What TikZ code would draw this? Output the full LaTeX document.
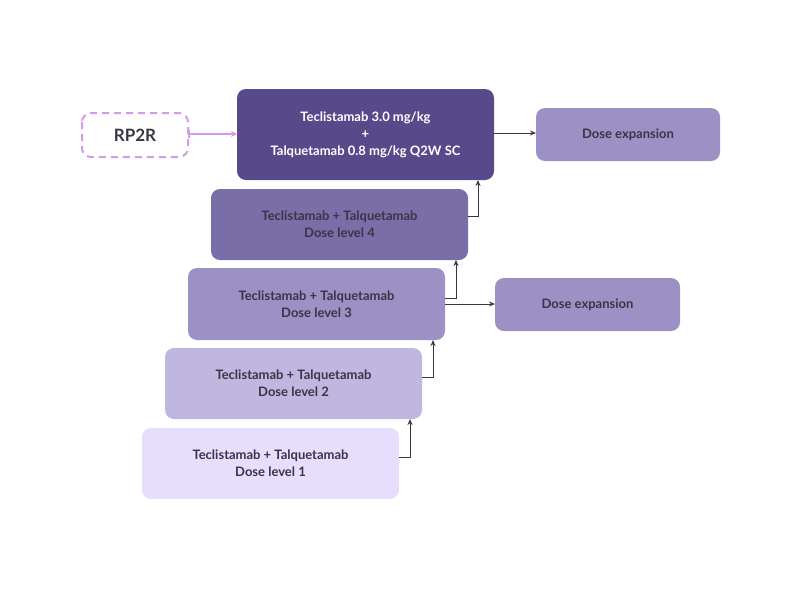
\documentclass[tikz,border=0pt]{standalone}
\usepackage{fontspec}
\setmainfont{Lato}
\usetikzlibrary{arrows.meta}
\definecolor{c0}{HTML}{584A8A}
\definecolor{c4}{HTML}{7A6EA8}
\definecolor{c3}{HTML}{9D90C4}
\definecolor{c2}{HTML}{C0B7E0}
\definecolor{c1}{HTML}{E5DEFC}
\definecolor{txt}{HTML}{3B3446}
\definecolor{pink}{HTML}{D39BEA}
\begin{document}
\begin{tikzpicture}[x=1pt,y=-1pt,
 box/.style={rounded corners=9pt,inner sep=0pt,font=\bfseries\fontsize{13}{17}\selectfont,text=txt,align=center},
 arr/.style={draw=txt,line width=1pt,-{Stealth[length=6pt,width=5pt]}}]
\useasboundingbox (0,0) rectangle (800,600);
\fill[white] (0,0) rectangle (800,600);
\path[box,fill=c0] (237,89) rectangle (494,180);
\node[box,text=white] (top) at (365.5,134.5) {Teclistamab 3.0 mg/kg\\+\\Talquetamab 0.8 mg/kg Q2W SC};
\path[box,fill=c4] (211,189) rectangle (468,260);
\node[box] (d4) at (339.5,224.5) {Teclistamab + Talquetamab\\Dose level 4};
\path[box,fill=c3] (188,268) rectangle (445,340);
\node[box] (d3) at (316.5,304) {Teclistamab + Talquetamab\\Dose level 3};
\path[box,fill=c2] (165,348) rectangle (422,419);
\node[box] (d2) at (293.5,383.5) {Teclistamab + Talquetamab\\Dose level 2};
\path[box,fill=c1] (142,428) rectangle (399,499);
\node[box] (d1) at (270.5,463.5) {Teclistamab + Talquetamab\\Dose level 1};
\path[box,fill=c3] (536,108) rectangle (720,161);
\node[box] (e1) at (628,134.5) {Dose expansion};
\path[box,fill=c3] (495,278) rectangle (680,331);
\node[box] (e2) at (587.5,304.5) {Dose expansion};
\draw[pink,line width=2pt,dash pattern=on 7pt off 5pt,rounded corners=9pt] (82,113) rectangle (188,157);
\node[box,font=\bfseries\fontsize{17}{20}\selectfont] (rp) at (135,135) {RP2R};
\coordinate (p1) at (410,457); \coordinate (p2) at (433,377);
\coordinate (p3) at (456,298); \coordinate (p4) at (478,216);
\draw[arr] (399,457) -- (p1) -- (410,419);
\draw[arr] (422,377) -- (p2) -- (433,340);
\draw[arr] (445,298) -- (p3) -- (456,260);
\draw[arr] (468,216) -- (p4) -- (478,180);
\draw[arr] (445,304) -- (495,304);
\draw[arr] (494,133) -- (536,133);
\draw[pink,line width=1.5pt,{Bar[width=8pt]}-{Stealth[length=6pt,width=6pt]}] (188,134) -- (237,134);
\end{tikzpicture}
\end{document}
